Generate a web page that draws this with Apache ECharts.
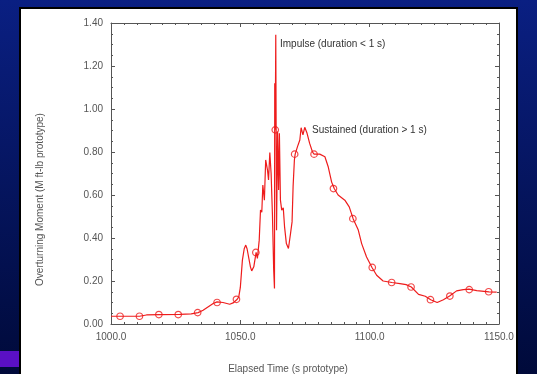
<!DOCTYPE html>
<html>
<head>
<meta charset="utf-8">
<script src="https://cdn.jsdelivr.net/npm/echarts@6/dist/echarts.min.js"></script>
<style>
  html, body { margin: 0; padding: 0; background: #000c3a; }
  #chart-container { width: 537px; height: 374px; }
</style>
</head>
<body>
<div id="chart-container"></div>
<script>
// traced curve (seconds, M ft-lb)
const times = [
  1000, 1011, 1013.7, 1018.8, 1026.6, 1031, 1033.7, 1035.6, 1039.5, 1041,
  1043.3, 1045.9, 1047.2, 1048.8, 1049.4, 1050, 1050.8, 1051.5, 1052.1, 1052.6,
  1053.1, 1053.9, 1054.4, 1055.2, 1056.1, 1056.6, 1057.3, 1057.8, 1058.3, 1058.7,
  1059.3, 1059.8, 1060.5, 1060.9, 1061.4, 1061.9, 1062.4, 1062.9, 1063.2, 1063.3,
  1063.5, 1063.7, 1064, 1064.4, 1064.8, 1065.1, 1065.5, 1066, 1066.6, 1067.1,
  1067.8, 1068.6, 1069.4, 1070, 1070.4, 1070.9, 1071.2, 1072.1, 1073, 1073.5,
  1074.2, 1074.9, 1075.8, 1076.8, 1077.9, 1078.5, 1080.7, 1082.7, 1084, 1085.3,
  1086.3, 1087.8, 1090.4, 1092.1, 1093.6, 1095.6, 1096.9, 1098.8, 1100.9, 1102.7,
  1105.2, 1108.6, 1111.7, 1114.1, 1116.1, 1118.9, 1121.5, 1123.6, 1126.1, 1128.5,
  1130.9, 1133.6, 1136.2, 1138.4, 1141.4, 1146.1, 1149.1
];
const moments = [
  0.036, 0.036, 0.042, 0.044, 0.045, 0.047, 0.053, 0.064, 0.095, 0.103,
  0.10, 0.092, 0.098, 0.115, 0.126, 0.17, 0.297, 0.35, 0.367, 0.35,
  0.347, 0.266, 0.247, 0.266, 0.333, 0.305, 0.39, 0.53, 0.52, 0.646,
  0.576, 0.763, 0.716, 0.67, 0.797, 0.70, 0.514, 0.25, 0.165, 1.12,
  0.903, 1.345, 0.436, 0.895, 0.623, 0.887, 0.576, 0.53, 0.54, 0.452,
  0.374, 0.351, 0.42, 0.475, 0.64, 0.763, 0.79, 0.825, 0.856, 0.913,
  0.88, 0.915, 0.887, 0.84, 0.80, 0.79, 0.79, 0.778, 0.73, 0.66,
  0.63, 0.60, 0.576, 0.545, 0.49, 0.437, 0.374, 0.312, 0.263, 0.227,
  0.20, 0.193, 0.188, 0.183, 0.172, 0.138, 0.129, 0.113, 0.10, 0.113,
  0.13, 0.154, 0.16, 0.162, 0.155, 0.149, 0.148
];

// circle markers, every 7.5 s
const markerTimes = [
  1003.5, 1011, 1018.5, 1026, 1033.5, 1041, 1048.5, 1056, 1063.5, 1071,
  1078.5, 1086, 1093.5, 1101, 1108.5, 1116, 1123.5, 1131, 1138.5, 1146
];
const markerMoments = [
  0.036, 0.036, 0.044, 0.044, 0.053, 0.10, 0.115, 0.333, 0.903, 0.79,
  0.79, 0.63, 0.49, 0.263, 0.193, 0.172, 0.113, 0.13, 0.16, 0.15
];

const xTicks = [1000, 1150, 50];
const yTicks = [0, 1.4, 0.2];

const notes = [
  { text: "Impulse (duration < 1 s)", x: 280, y: 44 },
  { text: "Sustained (duration > 1 s)", x: 312, y: 130 }
];

let dom = document.getElementById("chart-container");
let myChart = echarts.init(dom, null, { renderer: "canvas" });

const lineData = times.map((t, i) => [t, moments[i]]);
const markerData = markerTimes.map((t, i) => [t, markerMoments[i]]);

const axisColor = "#555";
const labelStyle = { color: "#555", fontSize: 10, fontFamily: "Liberation Sans, Arial, sans-serif" };

function boxAxis(pos, isX) {
  return {
    type: "value",
    position: pos,
    min: isX ? xTicks[0] : yTicks[0],
    max: isX ? xTicks[1] : yTicks[1],
    interval: isX ? xTicks[2] : yTicks[2],
    axisLine: { show: true, onZero: false, lineStyle: { color: axisColor, width: 1 } },
    axisTick: { show: true, inside: true, length: 4, lineStyle: { color: axisColor } },
    minorTick: { show: true, splitNumber: isX ? 10 : 4, length: 2, lineStyle: { color: axisColor } },
    axisLabel: { show: false },
    splitLine: { show: false }
  };
}

let xMain = boxAxis("bottom", true);
xMain.axisLabel = Object.assign({ show: true, margin: 8, formatter: v => v.toFixed(1) }, labelStyle);
xMain.name = "Elapsed Time (s prototype)";
xMain.nameLocation = "middle";
xMain.nameGap = 40;
xMain.nameTextStyle = Object.assign({ padding: [0, 34, 0, 0] }, labelStyle);

let yMain = boxAxis("left", false);
yMain.axisLabel = Object.assign({ show: true, margin: 8, formatter: v => v.toFixed(2) }, labelStyle);
yMain.name = "Overturning Moment (M ft-lb prototype)";
yMain.nameLocation = "middle";
yMain.nameGap = 66;
yMain.nameTextStyle = Object.assign({ padding: [0, 52, 0, 0] }, labelStyle);

let option = {
  animation: false,
  backgroundColor: {
    type: "linear", x: 0, y: 0, x2: 0, y2: 1,
    colorStops: [
      { offset: 0, color: "#0a1f82" },
      { offset: 1, color: "#000a3a" }
    ]
  },
  grid: { left: 111, top: 23, right: 38, bottom: 50, outerBoundsMode: "none" },
  graphic: [
    {
      type: "rect", z: -10, silent: true,
      shape: { x: 20, y: 8, width: 497, height: 370 },
      style: { fill: "#ffffff", stroke: "#000000", lineWidth: 2 }
    },
    {
      type: "rect", z: -10, silent: true,
      shape: { x: 0, y: 351, width: 19, height: 16 },
      style: { fill: "#5a10c4" }
    }
  ].concat(notes.map(n => ({
    type: "text", silent: true,
    x: n.x, y: n.y,
    style: {
      text: n.text, verticalAlign: "middle", fill: "#333",
      fontSize: 10, fontFamily: "Liberation Sans, Arial, sans-serif"
    }
  }))),
  xAxis: [xMain, boxAxis("top", true)],
  yAxis: [yMain, boxAxis("right", false)],
  series: [
    {
      type: "line",
      data: lineData,
      showSymbol: false,
      lineStyle: { color: "#ee1c1c", width: 1.2 },
      z: 2
    },
    {
      type: "scatter",
      data: markerData,
      symbol: "circle",
      symbolSize: 6.5,
      itemStyle: { color: "rgba(255,255,255,0)", borderColor: "#ee1c1c", borderWidth: 1.2 },
      z: 3
    }
  ]
};

myChart.setOption(option);
window.addEventListener("resize", myChart.resize);
</script>
</body>
</html>
